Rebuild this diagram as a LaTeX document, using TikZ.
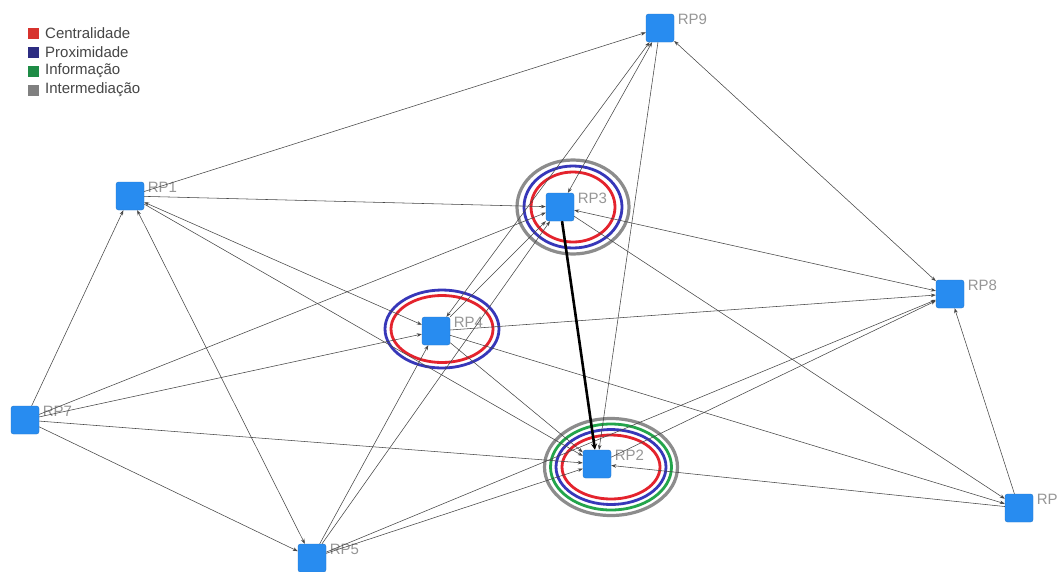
\documentclass[tikz,border=0pt]{standalone}
\usepackage{fontspec}
\setmainfont{Liberation Sans}
\usetikzlibrary{arrows.meta}
\definecolor{nodeblue}{RGB}{40,140,240}
\definecolor{labelgray}{RGB}{150,150,150}
\definecolor{edgecol}{RGB}{70,70,70}
\definecolor{ringred}{RGB}{228,35,45}
\definecolor{ringblue}{RGB}{55,55,185}
\definecolor{ringgreen}{RGB}{35,165,75}
\definecolor{ringgray}{RGB}{140,140,140}
\definecolor{lgred}{RGB}{215,50,45}
\definecolor{lgblue}{RGB}{45,45,130}
\definecolor{lggreen}{RGB}{30,140,70}
\definecolor{lggray}{RGB}{128,128,128}
\definecolor{legendtext}{RGB}{70,70,70}
\pgfdeclarelayer{bg}
\pgfsetlayers{bg,main}
\tikzset{
  rp/.style={rectangle, rounded corners=2.5pt, fill=nodeblue, draw=nodeblue!85!black, line width=0.4pt, minimum size=28pt, inner sep=0pt},
  lbl/.style={anchor=north west, inner sep=0pt, font=\fontsize{15}{15}\selectfont, text=labelgray, xshift=3.5pt},
  link/.style={draw=edgecol, line width=0.55pt, -{Stealth[length=5pt,width=3.6pt]}},
  both/.style={link, {Stealth[length=5pt,width=3.6pt]}-{Stealth[length=5pt,width=3.6pt]}},
  strong/.style={draw=black, line width=2.6pt, -{Stealth[length=6pt,width=6pt]}},
  ring/.style={line width=2.8pt},
  lgbox/.style={minimum size=11pt, inner sep=0pt},
  lgtext/.style={anchor=west, inner sep=0pt, font=\fontsize{15}{15}\selectfont, text=legendtext}
}
\begin{document}
\begin{tikzpicture}[x=1pt,y=-1pt]
\useasboundingbox (0,0) rectangle (1057,571);

% nodes
\node[rp] (RP1) at (130,196) {};
\node[rp] (RP2) at (597,464) {};
\node[rp] (RP3) at (560,207) {};
\node[rp] (RP4) at (436,331) {};
\node[rp] (RP5) at (312,558) {};
\node[rp] (RP6) at (1019,508) {};
\node[rp] (RP7) at (25,420) {};
\node[rp] (RP8) at (950,294) {};
\node[rp] (RP9) at (660,28) {};

\node[lbl] (l1) at (RP1.north east) {RP1};
\node[lbl] (l2) at (RP2.north east) {RP2};
\node[lbl] (l3) at (RP3.north east) {RP3};
\node[lbl] (l4) at (RP4.north east) {RP4};
\node[lbl] (l5) at (RP5.north east) {RP5};
\node[lbl] (l6) at (RP6.north east) {RP};
\node[lbl] (l7) at (RP7.north east) {RP7};
\node[lbl] (l8) at (RP8.north east) {RP8};
\node[lbl] (l9) at (RP9.north east) {RP9};

% background and rings
\begin{pgfonlayer}{bg}
  \fill[white] (0,0) rectangle (1057,571);
  \draw[ring, ringgray, line width=3.2pt]  (573,207) ellipse [x radius=56pt, y radius=47pt];
  \draw[ring, ringblue]  (573,207) ellipse [x radius=49pt, y radius=41pt];
  \draw[ring, ringred]   (573,207) ellipse [x radius=42pt, y radius=35pt];

  \draw[ring, ringgray, line width=3.2pt]  (611,467) ellipse [x radius=66.5pt, y radius=48.5pt];
  \draw[ring, ringgreen] (611,467) ellipse [x radius=60.5pt, y radius=43pt];
  \draw[ring, ringblue]  (611,467) ellipse [x radius=55pt, y radius=37.5pt];
  \draw[ring, ringred]   (611,467) ellipse [x radius=49pt, y radius=32pt];

  \draw[ring, ringblue]  (442,329) ellipse [x radius=57pt, y radius=39pt];
  \draw[ring, ringred]   (442,329) ellipse [x radius=51pt, y radius=33.5pt];
\end{pgfonlayer}

% edges
\draw[link] (RP1) -- (RP9);
\draw[link] (RP1) -- (RP3);
\draw[both] (RP1) -- (RP4);
\draw[link] (RP1) -- (RP2);
\draw[both] (RP1) -- (RP5);
\draw[link] (RP7) -- (RP1);
\draw[link] (RP7) -- (RP3);
\draw[link] (RP7) -- (RP4);
\draw[link] (RP7) -- (RP2);
\draw[link] (RP7) -- (RP5);
\draw[link] (RP5) -- (RP4);
\draw[link] (RP5) -- (RP3);
\draw[link] (RP5) -- (RP2);
\draw[link] (RP5) -- (RP8);
\draw[both] (RP4) -- (RP9);
\draw[link] (RP4) -- (RP3);
\draw[link] (RP4) -- (RP8);
\draw[link] (RP4) -- (RP6);
\draw[link] (RP4) -- (RP2);
\draw[both] (RP3) -- (RP9);
\draw[both] (RP3) -- (RP8);
\draw[link] (RP3) -- (RP6);
\draw[link] (RP9) -- (RP2);
\draw[both] (RP9) -- (RP8);
\draw[link] (RP2) -- (RP8);
\draw[link] (RP6) -- (RP2);
\draw[link] (RP6) -- (RP8);
\draw[strong] (RP3) -- (RP2);

% legend
\node[lgbox, fill=lgred]   (lgs1) at (33,33) {};
\node[lgbox, fill=lgblue]  (lgs2) at (33,52) {};
\node[lgbox, fill=lggreen] (lgs3) at (33,71) {};
\node[lgbox, fill=lggray]  (lgs4) at (33,90) {};
\node[lgtext] (lg1) at (45,33) {Centralidade};
\node[lgtext] (lg2) at (45,52) {Proximidade};
\node[lgtext] (lg3) at (45,71) {Informação};
\node[lgtext] (lg4) at (45,90) {Intermediação};
\end{tikzpicture}
\end{document}
